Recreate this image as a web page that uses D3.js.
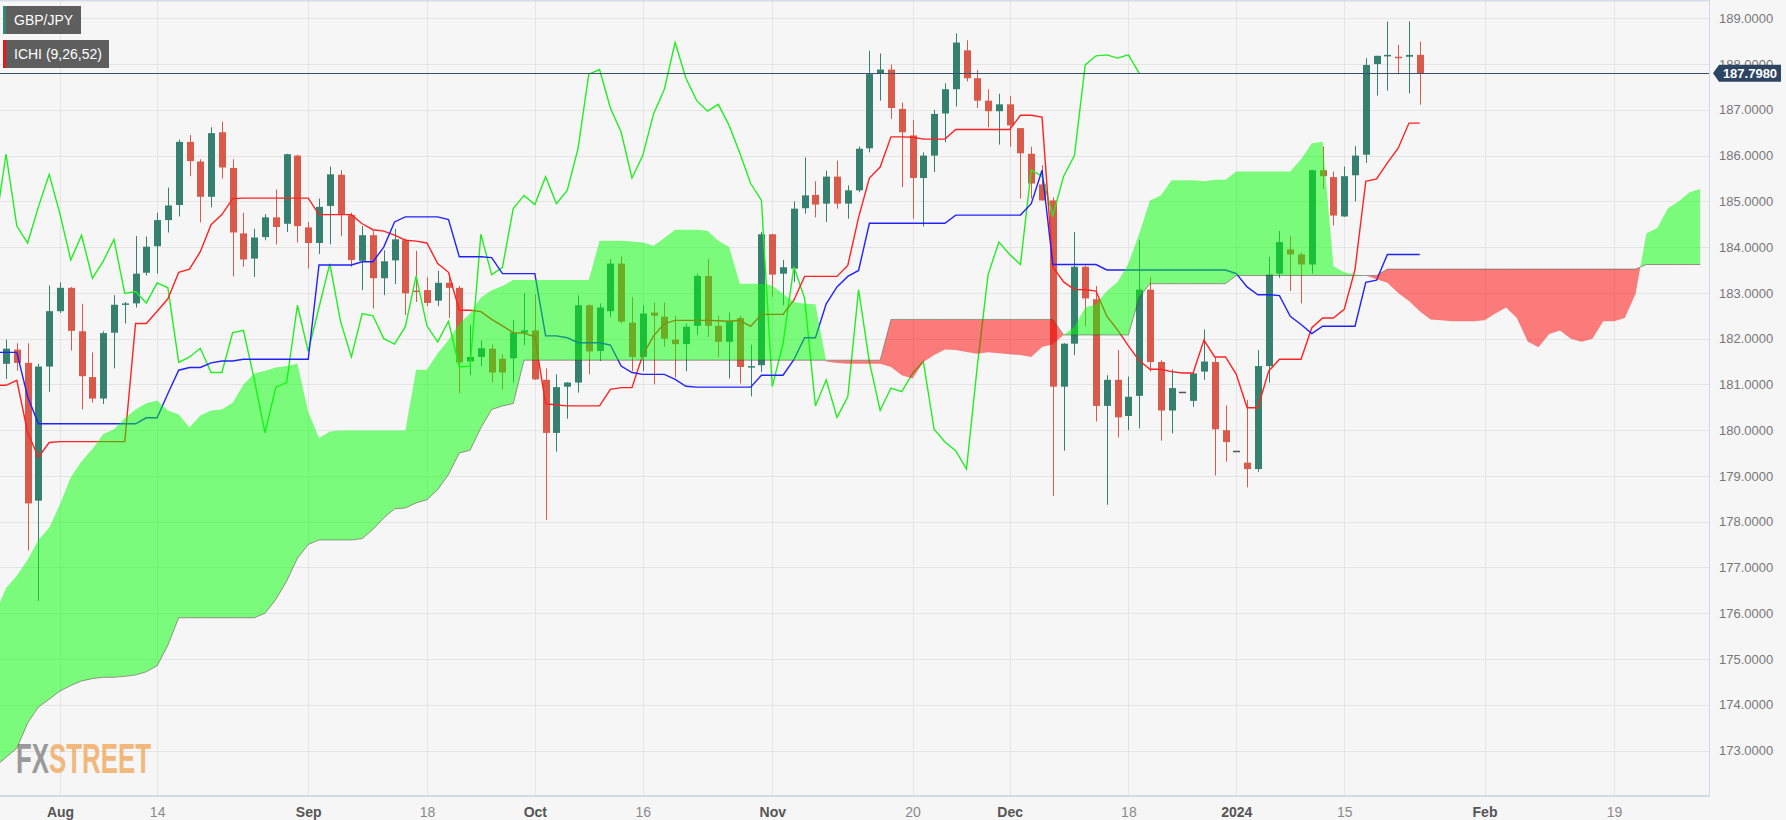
<!DOCTYPE html>
<html><head><meta charset="utf-8">
<script src="https://cdn.jsdelivr.net/npm/d3@7"></script>
<style>
html,body{margin:0;padding:0;background:#f6f6f6;}
svg{display:block;font-family:"Liberation Sans",Arial,sans-serif;}
</style></head>
<body><svg id="chart" width="1786" height="820"></svg>
<script>
// ---------------- DATA ----------------
const symbolLabel = "GBP/JPY";
const indicatorLabel = "ICHI (9,26,52)";
const lastPrice = 187.798;
const firstTradingDay = "2023-07-24";   // first period shown (index 0)
const periodCount = 159;                // trading days incl. 26 projected periods
const candleStartIndex = 1;             // first candle: 2023-07-25
const chikouShift = 26;

const open = [181.45,181.76,181.47,178.46,181.39,
182.60,183.11,182.16,181.16,180.69,182.13,182.76,182.77,183.44,184.02,
184.59,184.92,186.30,185.87,185.10,186.51,185.73,184.30,183.75,184.22,
184.65,184.51,186.00,184.43,184.09,184.90,185.58,184.70,183.70,184.26,
183.32,183.71,184.15,183.05,183.06,182.83,183.22,183.11,181.50,181.60,
181.78,181.56,181.57,182.13,182.18,181.10,179.94,180.95,181.04,182.73,
181.73,182.60,183.64,182.35,181.60,182.57,182.48,181.98,181.88,182.28,
183.37,182.28,181.93,182.45,181.38,181.42,184.28,183.42,183.53,184.85,
185.14,184.95,185.54,184.95,185.24,186.16,187.80,187.88,187.02,186.44,
185.51,186.00,186.92,187.45,188.30,187.69,187.20,186.97,187.12,186.60,
186.04,185.37,185.02,180.95,181.89,183.57,182.86,180.53,181.10,180.31,
180.75,183.07,181.49,180.43,180.84,180.64,181.28,181.49,180.00,179.55,
179.29,179.15,181.40,183.42,183.95,183.84,183.62,185.68,185.53,184.67,
185.57,186.02,188.00,188.18,188.16,188.16,188.20];
const high = [181.98,181.90,181.90,181.45,183.16,
183.23,183.13,182.76,181.70,182.16,182.95,182.80,184.24,184.23,184.75,
185.30,186.35,186.45,185.92,186.62,186.74,185.92,184.75,184.40,184.72,
185.26,186.04,186.02,184.55,185.06,185.76,185.68,184.75,184.46,184.36,
183.93,184.40,184.19,183.92,183.34,183.48,183.42,183.15,182.30,181.96,
181.87,181.66,182.40,182.99,182.97,181.35,181.22,181.05,182.95,182.75,
182.77,183.74,183.80,182.91,182.73,182.79,182.79,182.50,182.33,183.42,
183.74,182.50,182.57,182.50,181.87,184.33,184.29,183.72,185.00,185.96,
185.44,185.67,185.89,185.35,186.20,188.29,188.23,187.99,187.16,186.78,
186.07,187.00,187.58,188.67,188.52,187.87,187.45,187.35,187.30,186.60,
186.19,185.79,185.09,181.90,184.33,183.60,183.15,181.20,181.75,181.17,
184.16,183.35,181.53,181.33,180.84,181.28,182.20,181.60,180.54,179.55,
180.66,181.75,183.79,184.35,184.24,183.89,185.69,186.20,185.65,185.76,
186.21,188.13,188.18,188.93,188.42,188.93,188.49];
const low = [181.12,181.30,177.37,176.27,180.84,
182.56,181.74,180.45,180.60,180.57,181.35,182.33,182.68,183.38,183.42,
184.32,184.67,185.55,184.54,184.87,185.50,183.36,183.57,183.35,184.15,
184.06,184.33,184.10,183.53,183.85,184.06,184.24,183.57,183.06,182.66,
182.95,183.19,182.52,182.80,182.71,182.71,182.45,180.81,181.20,181.40,
181.04,180.89,181.04,181.86,181.10,178.04,179.53,180.25,180.82,181.22,
181.51,182.47,182.33,181.29,181.29,181.00,181.82,181.15,181.29,182.08,
182.04,181.60,181.13,181.02,180.74,181.27,182.92,182.73,183.24,184.73,
184.65,184.55,184.84,184.62,185.20,186.07,187.20,186.80,185.31,184.62,
184.45,185.64,186.29,187.07,187.62,187.04,186.62,186.24,186.19,185.06,
185.06,185.02,178.56,179.55,181.64,182.27,180.19,178.37,179.84,180.00,
180.04,181.28,179.77,179.93,180.84,180.51,181.10,179.01,179.31,179.55,
178.75,179.09,181.04,183.33,183.04,182.77,183.42,185.27,184.47,184.66,
185.00,185.84,187.31,187.42,187.79,187.36,187.11];
const close = [181.78,181.47,178.40,181.39,182.60,
183.11,182.17,181.18,180.69,182.12,182.74,182.77,183.42,184.01,184.59,
184.91,186.30,185.88,185.10,186.49,185.74,184.32,183.73,184.21,184.65,
184.44,186.03,184.46,184.09,184.88,185.59,184.72,183.72,184.26,183.32,
183.69,184.17,182.99,183.03,182.78,183.22,183.11,181.48,181.60,181.79,
181.26,181.26,182.13,182.18,181.11,179.94,180.94,181.04,182.73,181.72,
182.68,183.64,182.37,181.60,182.55,182.50,182.00,181.88,182.26,183.37,
182.28,181.93,182.38,181.38,181.40,184.28,183.40,183.56,184.84,185.13,
184.93,185.54,184.95,185.24,186.15,187.78,187.88,187.04,186.51,185.51,
186.00,186.91,187.45,188.47,187.69,187.20,186.97,187.12,186.66,186.05,
185.39,185.02,180.95,181.89,183.57,182.88,180.53,181.10,180.28,180.73,
183.07,181.49,180.43,180.92,180.84,181.24,181.50,180.02,179.74,179.55,
179.15,181.40,183.40,184.11,183.84,183.62,185.68,185.55,184.69,185.55,
186.00,187.98,188.18,188.20,188.13,188.20,187.80];

// Tenkan-sen (conversion line), from index 0
const tenkan = [180.98,180.98,181.09,179.95,179.41,179.73,
179.75,179.75,179.75,179.75,179.75,179.75,179.75,182.33,182.33,182.60,
182.87,183.45,183.52,183.90,184.49,184.71,185.06,185.07,185.07,185.07,
185.07,185.07,185.07,185.07,184.71,184.71,184.71,184.71,184.51,184.38,
184.35,184.26,184.15,184.13,184.09,183.64,183.45,182.62,182.62,182.59,
182.42,182.28,182.13,182.12,182.04,180.58,180.55,180.53,180.53,180.53,
180.53,180.89,180.93,180.93,181.64,182.06,182.33,182.40,182.40,182.40,
182.40,182.39,182.38,182.40,182.27,182.53,182.53,182.53,182.84,183.36,
183.36,183.36,183.36,183.60,184.65,185.51,185.75,186.41,186.41,186.40,
186.36,186.36,186.36,186.57,186.57,186.57,186.57,186.57,186.57,186.88,
186.88,186.84,183.57,183.24,183.07,183.07,183.04,182.49,182.19,181.84,
181.52,181.33,181.33,181.28,181.25,181.25,181.97,181.60,181.60,181.22,
180.49,180.49,181.29,181.55,181.55,181.55,182.24,182.45,182.45,182.64,
183.51,185.44,185.49,185.84,186.16,186.71,186.71];
// Kijun-sen (base line), from index 0
const kijun = [181.70,181.70,181.70,180.73,180.14,180.14,
180.14,180.14,180.14,180.14,180.14,180.14,180.14,180.14,180.27,180.27,
180.80,181.31,181.37,181.37,181.47,181.51,181.51,181.55,181.55,181.55,
181.55,181.55,181.55,181.55,183.61,183.61,183.61,183.61,183.68,183.68,
184.00,184.55,184.66,184.66,184.66,184.66,184.60,183.79,183.79,183.79,
183.77,183.42,183.42,183.42,183.42,182.06,182.06,182.02,181.91,181.91,
181.91,181.86,181.40,181.26,181.22,181.22,181.22,181.11,180.96,180.94,
180.94,180.94,180.94,180.94,180.94,181.20,181.20,181.20,181.54,182.02,
182.02,182.76,183.13,183.36,183.49,184.52,184.52,184.52,184.52,184.52,
184.52,184.52,184.52,184.70,184.70,184.70,184.70,184.70,184.70,184.70,
184.95,185.68,183.62,183.62,183.62,183.62,183.62,183.50,183.50,183.50,
183.50,183.50,183.50,183.50,183.50,183.50,183.50,183.50,183.50,183.42,
183.13,182.96,182.96,182.94,182.49,182.31,182.11,182.27,182.27,182.27,
182.27,183.23,183.28,183.84,183.84,183.84,183.84];
// Senkou span A (leading span A), from index 0 to the end of projection
const senkouA = [176.00,176.55,176.82,177.17,177.60,177.87,
178.38,178.97,179.32,179.59,179.91,180.02,180.26,180.45,180.59,180.65,
180.43,180.34,180.06,180.32,180.43,180.45,180.60,181.00,181.24,181.30,
181.37,181.40,181.45,180.40,179.83,179.97,179.99,179.99,179.99,179.99,
179.99,179.99,179.99,181.32,181.32,181.68,181.97,182.33,182.55,182.90,
183.06,183.15,183.28,183.28,183.28,183.28,183.28,183.28,183.28,183.28,
184.14,184.14,184.14,184.12,184.10,184.03,184.20,184.38,184.38,184.38,
184.36,184.14,184.00,183.20,183.20,183.20,183.16,182.98,182.80,182.76,
182.75,181.50,181.47,181.45,181.45,181.45,181.45,181.38,181.20,181.13,
181.49,181.64,181.76,181.75,181.71,181.67,181.70,181.68,181.66,181.64,
181.60,181.82,181.88,182.08,182.26,182.68,182.75,183.04,183.24,183.64,
184.29,185.02,185.13,185.46,185.46,185.46,185.44,185.47,185.47,185.65,
185.65,185.65,185.65,185.65,185.65,185.92,186.27,186.30,183.58,183.45,
183.40,183.38,183.30,183.22,183.00,182.82,182.60,182.42,182.40,182.38,
182.38,182.38,182.40,182.55,182.68,182.45,181.94,181.81,182.10,182.18,
182.00,181.93,182.00,182.38,182.38,182.45,182.98,184.30,184.42,184.85,
185.00,185.20,185.27];
// Senkou span B (leading span B)
const senkouB = [172.65,172.85,173.05,173.60,173.95,174.12,
174.30,174.42,174.52,174.57,174.60,174.60,174.62,174.65,174.72,174.85,
175.30,175.90,175.90,175.90,175.90,175.90,175.90,175.90,175.90,176.00,
176.30,176.70,177.20,177.50,177.60,177.60,177.60,177.60,177.63,177.83,
178.08,178.28,178.30,178.41,178.48,178.70,179.03,179.50,179.56,180.05,
180.45,180.53,180.58,181.53,181.53,181.53,181.53,181.53,181.53,181.53,
181.53,181.53,181.53,181.53,181.53,181.53,181.53,181.53,181.53,181.53,
181.53,181.53,181.53,181.53,181.53,181.53,181.53,181.53,181.53,181.53,
181.53,181.53,181.53,181.53,181.53,181.53,181.53,182.42,182.42,182.42,
182.42,182.42,182.42,182.42,182.42,182.42,182.42,182.42,182.42,182.42,
182.42,182.42,182.42,182.08,182.08,182.08,182.08,182.08,182.08,182.08,
182.90,183.20,183.20,183.20,183.20,183.20,183.20,183.20,183.20,183.38,
183.38,183.38,183.38,183.38,183.38,183.38,183.38,183.38,183.38,183.38,
183.38,183.38,183.38,183.52,183.52,183.52,183.52,183.52,183.52,183.52,
183.52,183.52,183.52,183.52,183.52,183.52,183.52,183.52,183.52,183.52,
183.52,183.52,183.52,183.52,183.52,183.52,183.52,183.62,183.62,183.62,
183.62,183.62,183.62];

const priceTicks = [173,174,175,176,177,178,179,180,181,182,183,184,185,186,187,188,189];
const timeTickDates = ["2023-08-01","2023-08-14","2023-09-01","2023-09-18","2023-10-02","2023-10-16",
  "2023-11-01","2023-11-20","2023-12-01","2023-12-18","2024-01-01","2024-01-15","2024-02-01","2024-02-19"];
const timeTickLabels = ["Aug","14","Sep","18","Oct","16","Nov","20","Dec","18","2024","15","Feb","19"];
const majorTickLabels = ["Aug","Sep","Oct","Nov","Dec","2024","Feb"];

// ---------------- LAYOUT ----------------
const W = 1786, H = 820;
const plotRight = 1709, plotBottom = 795;
const colUp = "#35806f", colDown = "#d95a4a";

// trading-day calendar (weekdays)
const parseD = d3.timeParse("%Y-%m-%d"), fmtD = d3.timeFormat("%Y-%m-%d");
const dates = d3.timeDay.range(parseD(firstTradingDay), d3.timeDay.offset(parseD(firstTradingDay), 400))
  .filter(d => d.getDay() !== 0 && d.getDay() !== 6).slice(0, periodCount).map(fmtD);

const x = d3.scalePoint().domain(dates).range([-4.75, -4.75 + 10.7917 * (periodCount - 1)]);
const y = d3.scaleLinear().domain([173, 189]).range([750.5, 18.3]);

const svg = d3.select("#chart");
svg.append("rect").attr("width", W).attr("height", H).attr("fill", "#f6f6f6");
const defs = svg.append("defs");
defs.append("clipPath").attr("id", "plotClip").append("rect")
  .attr("x", 0).attr("y", 0).attr("width", plotRight).attr("height", plotBottom);

// gridlines
const grid = svg.append("g");
grid.selectAll("line.h").data(priceTicks).join("line")
  .attr("x1", 0).attr("x2", plotRight).attr("y1", d => Math.round(y(d)) + 0.5).attr("y2", d => Math.round(y(d)) + 0.5)
  .attr("stroke", "#e4e4e4");
grid.selectAll("line.v").data(timeTickDates).join("line")
  .attr("y1", 0).attr("y2", plotBottom).attr("x1", d => Math.round(x(d)) + 0.5).attr("x2", d => Math.round(x(d)) + 0.5)
  .attr("stroke", "#e4e4e4");

// logo (behind data), one text with two coloured parts
const logo = svg.append("text").attr("x", 16).attr("y", 773).attr("opacity", 0.85)
  .attr("font-size", 42).attr("textLength", 135).attr("lengthAdjust", "spacingAndGlyphs")
  .style("font-family", "'Liberation Sans Narrow','Arial Narrow',sans-serif").style("font-weight", "bold");
logo.append("tspan").attr("fill", "#8b8b8b").text("FX");
logo.append("tspan").attr("fill", "#f1ad66").text("STREET");

const plot = svg.append("g").attr("clip-path", "url(#plotClip)");

// candles
const candles = open.map((o, i) => ({
  d: dates[i + candleStartIndex], o, h: high[i], l: low[i], c: close[i]
}));
const candleColor = c => c.o === c.c ? "#555" : (c.c > c.o ? colUp : colDown);
const cg = plot.append("g");
cg.selectAll("line").data(candles).join("line")
  .attr("x1", c => Math.round(x(c.d)) + 0.5).attr("x2", c => Math.round(x(c.d)) + 0.5)
  .attr("y1", c => y(c.h)).attr("y2", c => y(c.l))
  .attr("stroke", candleColor).attr("stroke-width", 1);
cg.selectAll("rect").data(candles).join("rect")
  .attr("x", c => Math.round(x(c.d)) - 3).attr("width", 7)
  .attr("y", c => y(Math.max(c.o, c.c)))
  .attr("height", c => Math.max(1.5, Math.abs(y(c.o) - y(c.c))))
  .attr("fill", candleColor);

// lines
const line = d3.line().x(p => x(p.d)).y(p => y(p.v));
const tenkanPts = tenkan.map((v, i) => ({ d: dates[i], v }));
const kijunPts = kijun.map((v, i) => ({ d: dates[i], v }));
const chikouPts = close.map((v, i) => ({ d: dates[i + candleStartIndex - chikouShift], v }))
  .filter(p => p.d !== undefined);

plot.append("path").attr("d", line(chikouPts)).attr("fill", "none").attr("stroke", "#22ee22").attr("stroke-width", 1.4);
plot.append("path").attr("d", line(tenkanPts)).attr("fill", "none").attr("stroke", "#ff2222").attr("stroke-width", 1.4);
plot.append("path").attr("d", line(kijunPts)).attr("fill", "none").attr("stroke", "#2222ff").attr("stroke-width", 1.4);

// cloud
const cloudPts = dates.map((d, i) => ({ d, a: senkouA[i], b: senkouB[i] }));
defs.append("clipPath").attr("id", "aboveB").append("path")
  .attr("d", d3.area().x(p => x(p.d)).y0(p => y(p.b)).y1(-50)(cloudPts));
defs.append("clipPath").attr("id", "belowB").append("path")
  .attr("d", d3.area().x(p => x(p.d)).y0(p => y(p.b)).y1(900)(cloudPts));
const kumo = d3.area().x(p => x(p.d)).y0(p => y(p.b)).y1(p => y(p.a));
plot.append("g").attr("clip-path", "url(#aboveB)").append("path")
  .attr("d", kumo(cloudPts)).attr("fill", "rgba(0,255,0,0.5)");
plot.append("g").attr("clip-path", "url(#belowB)").append("path")
  .attr("d", kumo(cloudPts)).attr("fill", "rgba(255,0,0,0.5)");
plot.append("path").attr("d", d3.line().x(p => x(p.d)).y(p => y(p.b))(cloudPts))
  .attr("fill", "none").attr("stroke", "rgba(60,60,60,0.45)").attr("stroke-width", 1);

// last price line
plot.append("line").attr("x1", 0).attr("x2", plotRight)
  .attr("y1", Math.round(y(lastPrice)) + 0.5).attr("y2", Math.round(y(lastPrice)) + 0.5)
  .attr("stroke", "#3b506b").attr("stroke-width", 1);

// borders
svg.append("line").attr("x1", 0).attr("x2", plotRight).attr("y1", 0.5).attr("y2", 0.5).attr("stroke", "#d6dbee").attr("stroke-width", 2);
svg.append("line").attr("x1", plotRight + 0.5).attr("x2", plotRight + 0.5).attr("y1", 0).attr("y2", plotBottom).attr("stroke", "#d3dae5");
svg.append("line").attr("x1", 0).attr("x2", plotRight + 1).attr("y1", plotBottom + 1).attr("y2", plotBottom + 1).attr("stroke", "#d3dae5").attr("stroke-width", 2);

// y axis
const yAxis = d3.axisRight(y).tickValues(priceTicks).tickFormat(d3.format(".4f")).tickSize(0).tickPadding(10);
const yg = svg.append("g").attr("transform", `translate(${plotRight},0)`).call(yAxis);
yg.select(".domain").remove();
yg.selectAll("text").attr("fill", "#777").attr("font-size", 13).attr("font-family", "'Liberation Sans',Arial,sans-serif");

// x axis
const labelOf = d => timeTickLabels[timeTickDates.indexOf(d)];
const xAxis = d3.axisBottom(x).tickValues(timeTickDates).tickFormat(labelOf).tickSize(0).tickPadding(12);
const xg = svg.append("g").attr("transform", `translate(0,${plotBottom})`).call(xAxis);
xg.select(".domain").remove();
xg.selectAll("text")
  .attr("font-family", "'Liberation Sans Narrow','Arial Narrow',sans-serif")
  .attr("font-size", 14)
  .attr("font-weight", d => majorTickLabels.includes(labelOf(d)) ? "bold" : "normal")
  .attr("fill", d => majorTickLabels.includes(labelOf(d)) ? "#555" : "#8a8a8a");

// price label
const py = y(lastPrice);
const pl = svg.append("g");
pl.append("path").attr("d", `M${plotRight + 4},${py} L${plotRight + 10},${py - 8.5} L${plotRight + 72},${py - 8.5} L${plotRight + 72},${py + 8.5} L${plotRight + 10},${py + 8.5} Z`)
  .attr("fill", "#2d4562");
pl.append("text").attr("x", plotRight + 41).attr("y", py).attr("dy", "0.36em").attr("text-anchor", "middle")
  .attr("fill", "#fff").attr("font-size", 13).attr("font-weight", "bold").text(d3.format(".4f")(lastPrice));

// legend
const legendItems = [{ t: symbolLabel, c: "#2f8a74", y: 6, w: 78 }, { t: indicatorLabel, c: "#e8161b", y: 40, w: 106 }];
const lg = svg.append("g");
legendItems.forEach(it => {
  lg.append("rect").attr("x", 3).attr("y", it.y).attr("width", it.w).attr("height", 28).attr("fill", "#5e5e5e");
  lg.append("rect").attr("x", 3).attr("y", it.y).attr("width", 3).attr("height", 28).attr("fill", it.c);
  lg.append("text").attr("x", 14).attr("y", it.y + 14).attr("dy", "0.35em").attr("fill", "#fff")
    .attr("font-size", 14).text(it.t);
});
</script>
</body></html>
